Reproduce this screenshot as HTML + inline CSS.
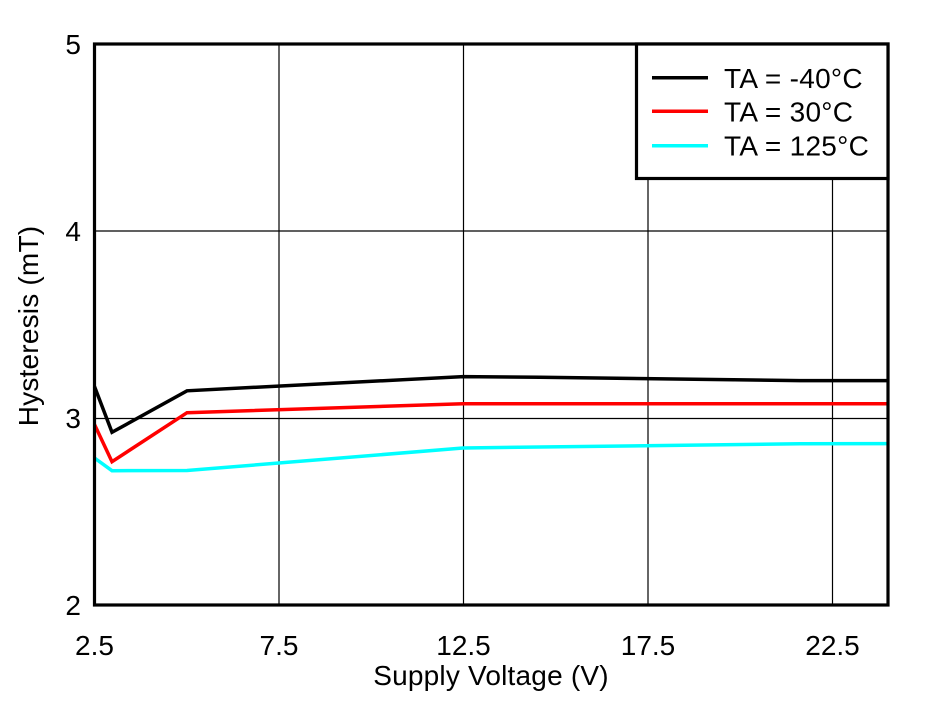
<!DOCTYPE html>
<html>
<head>
<meta charset="utf-8">
<style>
  html,body{margin:0;padding:0;background:#fff;}
  svg{display:block;}
  text{font-family:"Liberation Sans",Arial,sans-serif;fill:#000;}
</style>
</head>
<body>
<svg width="940" height="701" viewBox="0 0 940 701" xmlns="http://www.w3.org/2000/svg">
  <rect x="0" y="0" width="940" height="701" fill="#fff"/>
  <!-- grid -->
  <g stroke="#000" stroke-width="1.2">
    <line x1="279" y1="44" x2="279" y2="605"/>
    <line x1="463.5" y1="44" x2="463.5" y2="605"/>
    <line x1="648" y1="44" x2="648" y2="605"/>
    <line x1="832.5" y1="44" x2="832.5" y2="605"/>
    <line x1="94.5" y1="231" x2="888" y2="231"/>
    <line x1="94.5" y1="418.5" x2="888" y2="418.5"/>
  </g>
  <!-- series -->
  <g fill="none" stroke-width="3.5" stroke-linejoin="miter">
    <polyline stroke="#00ffff" points="94.5,458 112,470.7 187,470.5 463,448 540,447 800,443.8 888,443.6"/>
    <polyline stroke="#ff0000" points="94.5,424.5 112,461.7 187,412.7 463,403.7 888,403.7"/>
    <polyline stroke="#000000" points="94.5,386.5 112,432.3 187,390.8 463,376.6 540,377.2 800,380.6 888,380.6"/>
  </g>
  <!-- frame -->
  <rect x="94.5" y="44" width="793.5" height="561" fill="none" stroke="#000" stroke-width="3.2"/>
  <!-- legend -->
  <rect x="636.5" y="44" width="251.5" height="134.5" fill="#fff" stroke="#000" stroke-width="3.2"/>
  <line x1="652" y1="77.7" x2="708" y2="77.7" stroke="#000" stroke-width="3.5"/>
  <line x1="652" y1="111.3" x2="708" y2="111.3" stroke="#ff0000" stroke-width="3.5"/>
  <line x1="652" y1="145.7" x2="708" y2="145.7" stroke="#00ffff" stroke-width="3.5"/>
  <g font-size="28" letter-spacing="0.3">
    <text x="724" y="88">TA = -40°C</text>
    <text x="724" y="121.5">TA = 30°C</text>
    <text x="724" y="155.5">TA = 125°C</text>
  </g>
  <!-- y tick labels -->
  <g font-size="28" text-anchor="end">
    <text x="81" y="54">5</text>
    <text x="81" y="241">4</text>
    <text x="81" y="428">3</text>
    <text x="81" y="615">2</text>
  </g>
  <!-- x tick labels -->
  <g font-size="28" text-anchor="middle">
    <text x="94.5" y="655">2.5</text>
    <text x="279" y="655">7.5</text>
    <text x="463.5" y="655">12.5</text>
    <text x="648" y="655">17.5</text>
    <text x="832.5" y="655">22.5</text>
  </g>
  <!-- axis titles -->
  <text x="491" y="685" font-size="28" letter-spacing="0.2" text-anchor="middle">Supply Voltage (V)</text>
  <text x="0" y="0" font-size="28" letter-spacing="0.2" text-anchor="middle" transform="translate(38,326) rotate(-90)">Hysteresis (mT)</text>
</svg>
</body>
</html>
